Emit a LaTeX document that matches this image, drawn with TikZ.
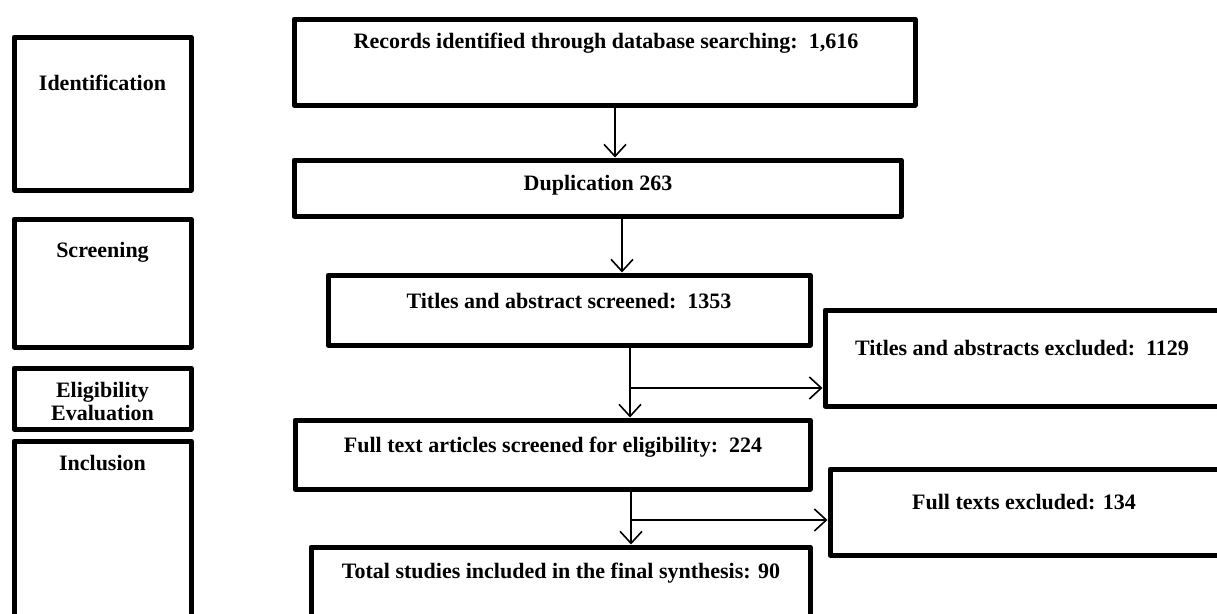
\documentclass[tikz,border=0pt]{standalone}
\usepackage{fontspec}
\setmainfont{Liberation Serif}
\usetikzlibrary{arrows.meta}
\tikzset{
  box/.style={draw=black, line width=5pt, rectangle, inner sep=0pt, line join=round},
  lbl/.style={font=\fontsize{22}{23}\selectfont\bfseries, inner sep=0pt, align=center},
  arr/.style={draw=black, line width=1.6pt, -{Straight Barb[length=12pt, width=22pt, line width=1.6pt]}},
  ln/.style={draw=black, line width=1.6pt}
}
\begin{document}
\begin{tikzpicture}[x=1pt, y=-1pt]
\useasboundingbox (0,0) rectangle (1217,613);
\clip (0,0) rectangle (1217,613);
\fill[white] (0,0) rectangle (1217,613);
% stage boxes
\node[box, minimum width=177pt, minimum height=153pt] (ident) at (102.5,113.5) {};
\node[box, minimum width=177pt, minimum height=128pt] (screen) at (102.5,283) {};
\node[box, minimum width=177pt, minimum height=61pt] (elig) at (102.5,398.5) {};
\node[box, minimum width=177pt, minimum height=197pt] (incl) at (102.5,539.5) {};
\node[lbl] (tident) at (102.5,83) {Identification};
\node[lbl] (tscreen) at (102.5,252) {Screening};
\node[lbl] (telig) at (102.5,401.5) {Eligibility\\Evaluation};
\node[lbl] (tincl) at (102.5,463) {Inclusion};
% flow boxes
\node[box, minimum width=621pt, minimum height=86pt] (rec) at (604.5,62) {};
\node[box, minimum width=607pt, minimum height=56pt] (dup) at (597.5,188) {};
\node[box, minimum width=482pt, minimum height=70pt] (tas) at (569,310) {};
\node[box, minimum width=515pt, minimum height=69pt] (fta) at (552.5,454.5) {};
\node[box, minimum width=499pt, minimum height=91pt] (tot) at (560.5,592.5) {};
\node[box, minimum width=473pt, minimum height=96pt] (exc1) at (1061.5,358) {};
\node[box, minimum width=468pt, minimum height=86pt] (exc2) at (1064,512) {};
\node[lbl] (trec) at (606,43) {Records identified through database searching:\ \ 1,616};
\node[lbl] (tdup) at (598,185) {Duplication 263};
\node[lbl] (ttas) at (569,301) {Titles and abstract screened:\ \ 1353};
\node[lbl] (tfta) at (553,447) {Full text articles screened for eligibility:\ \ 224};
\node[lbl] (ttot) at (561,573) {Total studies included in the final synthesis: 90};
\node[lbl] (texc1) at (1022,348) {Titles and abstracts excluded:\ \ 1129};
\node[lbl] (texc2) at (1024,502) {Full texts excluded: 134};
% connectors
\coordinate (c1) at (615,0);
\coordinate (c2) at (622,0);
\coordinate (c3) at (630,0);
\coordinate (c4) at (631,0);
\coordinate (b1) at (630,388);
\coordinate (b2) at (631,520);
\draw[arr] (rec.south -| c1) -- (dup.north -| c1);
\draw[arr] (dup.south -| c2) -- (tas.north -| c2);
\draw[arr] (tas.south -| c3) -- (fta.north -| c3);
\draw[arr] (b1) -- (b1 -| exc1.west);
\draw[arr] (fta.south -| c4) -- (tot.north -| c4);
\draw[arr] (b2) -- (b2 -| exc2.west);
\end{tikzpicture}
\end{document}
